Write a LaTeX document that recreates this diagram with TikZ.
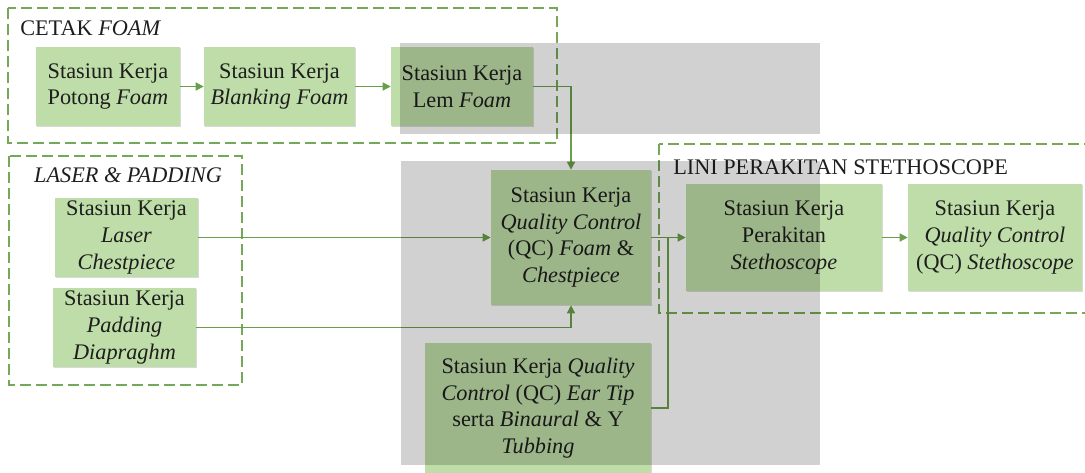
\documentclass[tikz,border=0pt]{standalone}
\usepackage{fontspec}
\setmainfont{LiberationSerif}[Extension=.ttf, UprightFont=*-Regular, ItalicFont=*-Italic, BoldFont=*-Bold, BoldItalicFont=*-BoldItalic]
\usetikzlibrary{arrows.meta,shadows}
\definecolor{nodegreen}{HTML}{BFDDA8}
\definecolor{linegreen}{HTML}{6A9F4A}
\definecolor{dashgreen}{HTML}{76A85A}
\definecolor{txt}{HTML}{1E1E1E}
\tikzset{
  stn/.style={fill=nodegreen, draw=none, inner sep=0pt, align=center, text=txt,
    font=\fontsize{16.7}{20}\selectfont,
    drop shadow={shadow xshift=0.8pt, shadow yshift=-0.8pt, fill=black, opacity=0.15}},
  grp/.style={draw=dashgreen, line width=0.8pt, dash pattern=on 8pt off 4pt},
  conn/.style={draw=linegreen, line width=1pt},
  arr/.style={conn, -{Triangle[length=6pt,width=6pt]}},
  grptitle/.style={text=txt, inner sep=0pt, font=\fontsize{16.7}{20}\selectfont},
  wm/.style={fill=black, fill opacity=0.18, draw=none},
}
\begin{document}
\begin{tikzpicture}[x=0.75pt,y=-0.75pt]
\useasboundingbox (0,0) rectangle (1085,472);
\begin{scope}
\clip (0,0) rectangle (1085,472);
% group boxes
\draw[grp] (8,8) rectangle (557,143);
\draw[grp] (9,156) rectangle (242,385);
\draw[grp] (659,144) rectangle (1100,313);
\node[grptitle, anchor=west] (tcetak) at (20,28) {CETAK \textit{FOAM}};
\node[grptitle] (tlaser) at (128,175) {\textit{LASER \& PADDING}};
\node[grptitle, anchor=west] (tlini) at (673,167) {LINI PERAKITAN STETHOSCOPE};
% stations
\node[stn, minimum width=108pt, minimum height=59.25pt] (potong) at (108,86.5) {Stasiun Kerja\\Potong \textit{Foam}};
\node[stn, minimum width=113.25pt, minimum height=59.25pt] (blank) at (279.5,86.5) {Stasiun Kerja\\\textit{Blanking Foam}};
\node[stn, minimum width=106.5pt, minimum height=59.25pt] (lem) at (462,86.5) {Stasiun Kerja\\Lem \textit{Foam}};
\node[stn, minimum width=107.25pt, minimum height=59.25pt] (laser) at (126.5,237.5) {Stasiun Kerja\\\textit{Laser}\\\textit{Chestpiece}};
\node[stn, minimum width=107.25pt, minimum height=59.25pt] (pad) at (124.5,327.5) {Stasiun Kerja\\\textit{Padding}\\\textit{Diapraghm}};
\node[stn, minimum width=120pt, minimum height=101.25pt] (qcf) at (571,237.5) {Stasiun Kerja\\\textit{Quality Control}\\(QC) \textit{Foam} \&\\\textit{Chestpiece}};
\node[stn, minimum width=169.5pt, minimum height=97.5pt] (ear) at (538,408) {Stasiun Kerja \textit{Quality}\\\textit{Control} (QC) \textit{Ear Tip}\\serta \textit{Binaural} \& Y\\\textit{Tubbing}};
\node[stn, minimum width=147pt, minimum height=80.25pt] (rakit) at (784,237.5) {Stasiun Kerja\\Perakitan\\\textit{Stethoscope}};
\node[stn, minimum width=130.5pt, minimum height=80.25pt] (qcs) at (995,237.5) {Stasiun Kerja\\\textit{Quality Control}\\(QC) \textit{Stethoscope}};
\coordinate (j) at (668,237.5);
% connectors
\draw[arr] (potong.east) -- (blank.west);
\draw[arr] (blank.east) -- (lem.west);
\draw[arr] (lem.east) -| (qcf.north);
\draw[arr] (laser.east) -- (qcf.west);
\draw[arr] (pad.east) -| (qcf.south);
\draw[conn] (ear.east) -| (j);
\draw[arr] (qcf.east) -- (rakit.west);
\draw[arr] (rakit.east) -- (qcs.west);
% background marks
\fill[wm] (400,43) rectangle (820,134);
\fill[wm] (401,161) rectangle (820,465);
\end{scope}
\end{tikzpicture}
\end{document}
